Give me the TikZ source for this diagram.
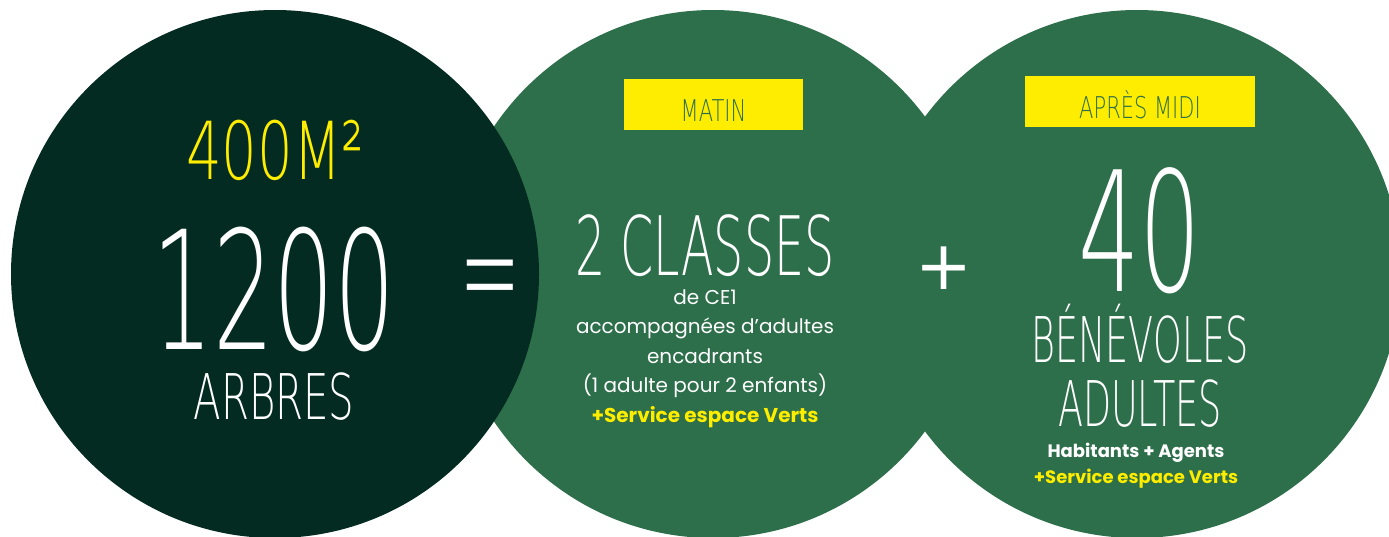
\documentclass[tikz,border=0pt]{standalone}
\usepackage{fontspec}
\setmainfont{Poppins}
\newfontfamily\thinfont[FakeStretch=0.58]{DejaVuSans-ExtraLight.ttf}
\newfontfamily\widefont[FakeStretch=0.64]{DejaVuSans-ExtraLight.ttf}
\newfontfamily\headfont[FakeStretch=0.7]{DejaVuSans-ExtraLight.ttf}
\newfontfamily\signfont{DejaVuSans-ExtraLight.ttf}
\newfontfamily\plusfont{DejaVu Sans}
\usetikzlibrary{positioning}
\definecolor{darkgreen}{HTML}{032B22}
\definecolor{leafgreen}{HTML}{2D6F4A}
\definecolor{signyellow}{HTML}{FFED00}
\tikzset{
	disc/.style={
		circle,
		minimum size=528pt,
		inner sep=0pt
	},
	bigtext/.style={
		text=white,
		anchor=base,
		inner sep=0pt
	},
	tag/.style={
		fill=signyellow,
		text=leafgreen,
		inner sep=0pt,
		minimum height=51pt,
		text height=33pt,
		text depth=0pt,
		font=\headfont\fontsize{30}{30}\selectfont
	},
	smalltext/.style={
		text=white,
		align=center,
		anchor=north,
		inner sep=0pt
	}
}

\begin{document}
\begin{tikzpicture}[x=1pt, y=-1pt]
		\useasboundingbox (0,0) rectangle (1389,536);
		\clip (0,0) rectangle (1389,536);
		\node[disc, fill=leafgreen] (Afternoon) at (1137,274) {};
		\node[disc, fill=leafgreen] (Morning) at (713,274) {};
		\node[disc, fill=darkgreen] (Trees) at (275,274) {};
		
		\node[bigtext, text=signyellow, font=\headfont\fontsize{80}{80}\selectfont] (Area) at (275,179) {400M²};
		\node[bigtext, font=\thinfont\fontsize{165}{165}\selectfont] (Count) at (274,349) {1200};
		\node[bigtext, font=\widefont\fontsize{63}{63}\selectfont] (CountLbl) at (274,419) {ARBRES};
		\node[text=white, inner sep=0pt, font=\signfont\fontsize{70}{70}\selectfont] (Equals) at (490,291.5) {\scalebox{1.05}[2.2]{=}};
		
		\node[tag, minimum width=179pt] (MorningTag) at (713.5,104.5) {MATIN};
		\node[bigtext, font=\thinfont\fontsize{82}{82}\selectfont] (Classes) at (705,275) {2 CLASSES};
		\node[smalltext, font=\fontsize{20}{29.5}\selectfont] (ClassesTxt) at (705,289) {de CE1\\ accompagnées d’adultes\\ encadrants\\ (1 adulte pour 2 enfants)\\ \textcolor{signyellow}{\bfseries +Service espace Verts}};
		\node[text=white, inner sep=0pt, font=\plusfont\fontsize{68}{68}\selectfont] (Plus) at (943.5,268.5) {+};
		
		\node[tag, minimum width=230pt] (AfternoonTag) at (1140,101.5) {APRÈS MIDI};
		\node[bigtext, font=\thinfont\fontsize{167}{167}\selectfont] (Volunteers) at (1140,291) {40};
		\node[bigtext, font=\thinfont\fontsize{63}{63}\selectfont] (VolLbl) at (1140,362) {BÉNÉVOLES};
		\node[bigtext, font=\thinfont\fontsize{63}{63}\selectfont] (VolLblB) at (1140,426) {ADULTES};
		\node[smalltext, font=\fontsize{18}{26}\selectfont\bfseries] (VolTxt) at (1136,443) {Habitants + Agents\\ \textcolor{signyellow}{+Service espace Verts}};
	\end{tikzpicture}
\end{document}
